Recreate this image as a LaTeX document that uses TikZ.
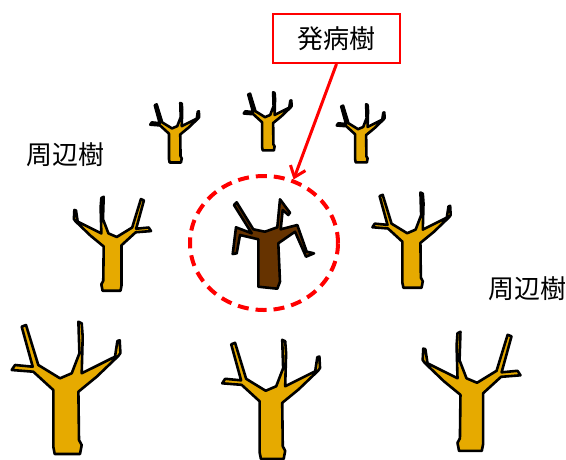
\documentclass[tikz,border=0pt]{standalone}
\usepackage{fontspec}
\newfontfamily\jpfont{Noto Sans CJK JP}
\usetikzlibrary{shapes.geometric,arrows.meta}
\definecolor{barkgold}{RGB}{230,170,0}
\definecolor{barkbrown}{RGB}{102,51,0}
\definecolor{alertred}{RGB}{255,0,0}

\tikzset{
  treeline/.style={draw=black, line width=2.6pt, line join=round},
  % healthy tree, local frame: trunk foot at origin, y pointing up
  tree/.pic={
    \path[treeline, fill=barkgold]
      (-13.4,6.3) -- (-12,-1) -- (13.3,-1) -- (15,8) -- (12.3,13)
      -- (11.7,61.3) -- (30,76.3) -- (51.6,97) -- (53.7,100) -- (53,112.7)
      -- (50.7,112) -- (48.3,96.3) -- (15,79.7) -- (16,116.3) -- (15,129.7)
      -- (11.7,131.3) -- (12.7,99.7) -- (5,79.7) -- (-6.7,74.7) -- (-28.4,88)
      -- (-40.7,128) -- (-45,126.3) -- (-34,86.3) -- (-51.7,88) -- (-55,83)
      -- (-33.4,81.3) -- (-13.4,63) -- cycle;
  },
  tagtext/.style={font=\jpfont\fontsize{26}{30}\selectfont, inner sep=0pt},
  tagbox/.style={tagtext, draw=alertred, line width=2pt, fill=white,
    minimum width=127pt, minimum height=49pt},
  ringstyle/.style={ellipse, draw=alertred, line width=4pt,
    dash pattern=on 11pt off 7pt, minimum width=148pt, minimum height=134pt,
    inner sep=0pt},
  pointer/.style={draw=alertred, line width=3pt,
    -{Straight Barb[length=10pt,width=16pt]}},
}

\begin{document}
\begin{tikzpicture}[x=1pt,y=-1pt]
  \useasboundingbox (0,0) rectangle (566,459);

  % back row
  \pic[xscale=0.45, yscale=-0.45] at (175,162) {tree};
  \pic[xscale=0.44, yscale=-0.44] at (268,150) {tree};
  \pic[xscale=0.44, yscale=-0.44] at (361,162) {tree};

  % middle row
  \pic[xscale=-0.71, yscale=-0.71] at (112,290) {tree};
  \pic[xscale=0.72, yscale=-0.72] at (412,287) {tree};

  % front row
  \pic[xscale=1, yscale=-1] at (66.7,453) {tree};
  \pic[xscale=0.9, yscale=-0.9] at (271.7,458) {tree};
  \pic[xscale=-0.9, yscale=-0.9] at (471,450) {tree};

  % diseased tree
  \path[treeline, fill=barkbrown]
    (258.3,286.7) -- (258.3,239.3) -- (240,235) -- (236.7,253.3)
    -- (232.7,254) -- (236,227.3) -- (251.7,233.3) -- (234,205)
    -- (236.7,202.3) -- (253.3,229.3) -- (265,231.7) -- (277.3,227.3)
    -- (280,199.3) -- (290,212.7) -- (288.3,215) -- (282.7,210)
    -- (280.7,229.3) -- (297.3,225) -- (306.7,251.7) -- (314,253.3)
    -- (306,256.7) -- (295,231.7) -- (278.3,243.3) -- (280,281.7)
    -- (277.3,288.7) -- cycle;

  \node[ringstyle] (ring) at (264,243) {};
  \node[tagbox] (onset) at (336.5,38.5) {発病樹};
  \draw[pointer] (onset.south) -- (ring.65);

  \node[tagtext] (westtag) at (66,155) {周辺樹};
  \node[tagtext] (easttag) at (527,289) {周辺樹};
\end{tikzpicture}
\end{document}
